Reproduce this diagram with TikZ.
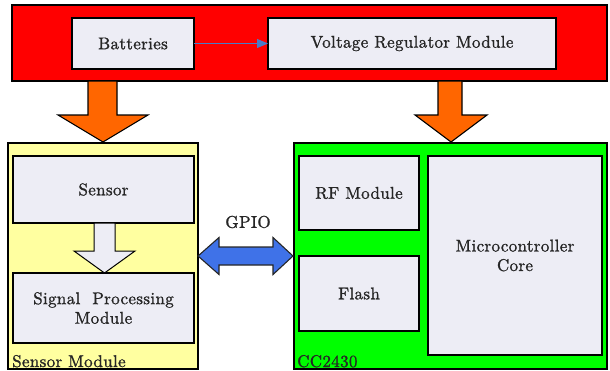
\documentclass[tikz,border=0pt]{standalone}
\usepackage{fontspec}
\setmainfont{lmroman10-regular.otf}[LetterSpace=2, FakeBold=1.2]
\usetikzlibrary{arrows.meta}
\definecolor{powerred}{HTML}{FF0000}
\definecolor{feedorange}{HTML}{FF6600}
\definecolor{sensoryellow}{HTML}{FFFFA0}
\definecolor{chipgreen}{HTML}{00FF00}
\definecolor{blockgrey}{HTML}{EDEDF5}
\definecolor{busblue}{HTML}{3F72E8}
\definecolor{linkblue}{HTML}{4A7CC8}
\begin{document}
\begin{tikzpicture}[x=1pt,y=-1pt,
  txt/.style={font=\rmfamily\fontsize{17}{19.5}\selectfont, text=black!85},
  frame/.style={draw=black, line width=1.3pt, inner sep=0pt, outer sep=0pt, anchor=north west},
  block/.style={frame, fill=blockgrey, align=center, txt},
  fatarrow/.style={draw=black, line width=1.1pt, line join=miter}
]
\useasboundingbox (0,0) rectangle (610,370);

% power supply strip
\node[frame, fill=powerred, minimum width=595, minimum height=76] (power) at (12,5) {};
\node[block, minimum width=122, minimum height=51] (bat) at (72,18) {Batteries};
\node[block, minimum width=288, minimum height=51] (vrm) at (268,18) {Voltage Regulator Module};
\draw[linkblue, line width=1.2pt, -{Triangle[length=11pt,width=9pt]}] (bat.east) -- (vrm.west);

% sensor module
\node[frame, fill=sensoryellow, minimum width=190, minimum height=226] (sensmod) at (8,143) {};
\node[block, minimum width=181, minimum height=67] (sensor) at (13,156) {Sensor};
\node[block, minimum width=181, minimum height=70] (spm) at (13,273) {Signal\ \ Processing\\Module};
\node[txt, anchor=base west, inner sep=0pt] (senslabel) at (12,367) {Sensor Module};

% CC2430 chip
\node[frame, fill=chipgreen, minimum width=313, minimum height=226] (cc) at (294,143) {};
\node[block, minimum width=120, minimum height=74] (rf) at (299,156) {RF Module};
\node[block, minimum width=120, minimum height=75] (flash) at (299,256) {Flash};
\node[block, minimum width=174, minimum height=199] (mcu) at (428,156) {Microcontroller\\Core};
\node[txt, anchor=base west, inner sep=0pt] (cclabel) at (297,367) {CC2430};

% power feed arrows
\filldraw[fatarrow, fill=feedorange]
  (88,81) -- (117,81) -- (117,115) -- (148,115) -- (103,142) -- (58,115) -- (88,115) -- cycle;
\filldraw[fatarrow, fill=feedorange]
  (438,81) -- (462,81) -- (462,115) -- (487,115) -- (451,142) -- (415,115) -- (438,115) -- cycle;

% sensor to signal processing
\filldraw[fatarrow, fill=blockgrey, line width=1pt]
  (94,223) -- (115,223) -- (115,251) -- (135,251) -- (104.5,273) -- (74,251) -- (94,251) -- cycle;

% GPIO bus
\filldraw[fatarrow, fill=busblue, draw=black!85]
  (198,256) -- (219,237.5) -- (219,247) -- (273,247) -- (273,237.5) -- (293,256)
  -- (273,274.5) -- (273,265) -- (219,265) -- (219,274.5) -- cycle;
\node[txt] (gpio) at (248,222) {GPIO};
\end{tikzpicture}
\end{document}
